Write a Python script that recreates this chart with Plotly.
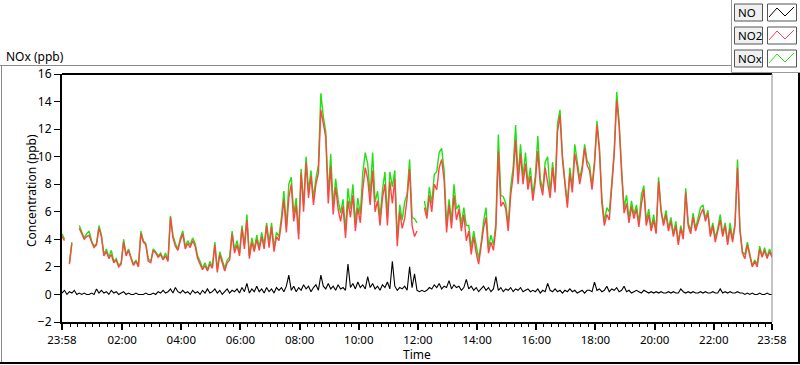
import plotly.graph_objects as go

# minutes after 23:58 (5-minute samples over 24 h)
STEP_MIN = 5

NO2 = [4.2, 3.9, None, 2.2, 3.7, None, None, 4.8, 4.4, 4.0, 4.2, 4.3,
       3.8, 3.4, 3.6, 4.8, 4.2, 2.8, 3.1, 2.6, 2.9, 2.3, 2.5, 2.0,
       2.2, 3.8, 2.8, 3.2, 2.6, 2.1, 2.4, 2.0, 4.4, 3.8, 3.6, 2.4,
       2.3, 3.2, 3.0, 2.7, 2.9, 2.5, 2.8, 2.4, 5.6, 4.1, 3.5, 3.2,
       3.9, 4.4, 3.3, 3.7, 3.4, 3.9, 3.5, 2.6, 2.2, 1.8, 2.1, 1.7,
       2.2, 1.9, 3.6, 1.6, 2.9, 2.2, 1.7, 2.3, 2.5, 4.4, 3.0, 3.6,
       2.8, 4.8, 3.3, 5.4, 2.6, 3.8, 3.1, 4.0, 3.2, 4.2, 3.3, 5.0,
       3.4, 4.9, 3.1, 4.2, 3.9, 5.2, 6.9, 4.5, 7.0, 8.0, 5.3, 6.5,
       4.0, 8.8, 6.0, 9.6, 7.0, 8.6, 6.5, 8.0, 8.8, 13.4, 12.3, 11.4,
       6.6, 9.3, 5.8, 7.8, 6.2, 5.3, 6.4, 4.1, 6.8, 5.6, 7.2, 4.6,
       6.3, 5.2, 7.6, 9.2, 8.4, 6.5, 9.0, 6.0, 6.8, 5.0, 7.0, 8.0,
       5.0, 8.2, 6.6, 8.4, 3.5, 6.0, 4.8, 5.5, 7.0, 9.1, 5.0, 4.2,
       4.6, None, None, 6.3, 5.5, 7.2, 6.0, 8.0, 7.6, 9.2, 9.8, 8.3,
       4.5, 6.5, 4.8, 7.2, 5.4, 6.2, 4.6, 5.8, 3.9, 4.6, 2.9, 4.2,
       3.0, 2.2, 3.4, 4.8, 5.6, 3.0, 3.8, 3.2, 4.8, 10.4, 6.4, 6.7,
       6.2, 4.6, 7.2, 8.6, 11.2, 8.0, 10.2, 8.0, 9.5, 7.6, 8.6, 6.8,
       8.2, 10.4, 8.0, 7.2, 9.2, 8.0, 7.0, 9.2, 7.4, 11.8, 13.0, 9.8,
       7.8, 6.3, 8.8, 7.4, 10.2, 9.3, 8.0, 9.0, 10.6, 9.4, 9.0, 7.6,
       9.4, 12.3, 10.4, 6.6, 5.0, 5.8, 5.4, 7.8, 10.2, 14.1, 12.2, 8.8,
       5.9, 6.6, 5.2, 6.4, 5.5, 6.2, 4.9, 6.5, 7.6, 5.0, 5.8, 4.6,
       5.4, 4.4, 8.2, 6.0, 5.0, 5.8, 4.6, 5.3, 4.2, 5.0, 3.6, 4.8,
       4.0, 7.4, 5.0, 4.4, 5.6, 4.6, 5.2, 5.8, 6.2, 5.3, 5.9, 4.2,
       5.0, 3.8, 4.6, 5.4, 4.2, 5.0, 3.6, 4.8, 3.8, 5.0, 9.2, 4.6,
       3.0, 2.6, 3.6, 2.9, 2.0, 2.4, 2.0, 3.3, 2.7, 3.2, 2.6, 3.1, 2.7]

NOX = [4.4, 4.0, None, 2.3, 3.8, None, None, 5.0, 4.6, 4.1, 4.4, 4.6,
       3.9, 3.5, 3.7, 5.0, 4.3, 2.9, 3.3, 2.7, 3.2, 2.4, 2.6, 2.1,
       2.3, 4.0, 2.9, 3.3, 2.7, 2.2, 2.5, 2.1, 4.6, 3.9, 3.7, 2.6,
       2.4, 3.3, 3.1, 2.8, 3.0, 2.6, 3.0, 2.5, 5.7, 4.3, 3.7, 3.3,
       4.1, 4.6, 3.5, 3.9, 3.6, 4.1, 3.7, 2.8, 2.4, 1.9, 2.3, 1.8,
       2.4, 2.0, 3.8, 1.8, 3.1, 2.4, 1.9, 2.5, 2.7, 4.6, 3.2, 3.9,
       3.0, 5.0, 3.6, 5.8, 2.8, 4.1, 3.3, 4.3, 3.4, 4.5, 3.6, 5.2,
       3.7, 5.2, 3.4, 4.5, 4.2, 5.6, 7.5, 4.9, 8.0, 8.5, 5.8, 7.0,
       4.4, 9.1, 6.5, 10.0, 7.5, 9.0, 7.0, 8.4, 9.4, 14.6, 12.9, 11.8,
       7.2, 10.2, 6.4, 8.4, 6.9, 5.9, 6.9, 4.6, 7.7, 6.2, 8.0, 5.2,
       7.0, 5.8, 8.8, 10.3, 9.5, 7.2, 10.3, 6.7, 7.5, 5.6, 7.6, 8.9,
       5.6, 8.9, 7.8, 9.0, 4.0, 6.5, 5.4, 6.7, 7.3, 9.8, 5.6, 5.5,
       5.2, None, None, 6.8, 5.8, 7.8, 6.6, 8.7, 8.9, 10.3, 10.6, 9.0,
       5.0, 6.9, 5.3, 8.0, 6.2, 6.5, 5.1, 6.3, 5.0, 5.0, 3.4, 4.6,
       3.5, 2.6, 3.7, 5.3, 6.3, 3.4, 4.3, 3.6, 5.2, 11.6, 7.2, 7.1,
       6.6, 5.0, 7.8, 9.2, 12.3, 8.5, 10.9, 8.5, 10.3, 8.0, 9.2, 7.2,
       8.6, 11.5, 8.4, 7.6, 9.6, 10.0, 7.3, 9.6, 7.7, 12.4, 13.4, 10.1,
       8.2, 6.6, 9.2, 7.7, 10.9, 9.6, 8.4, 9.3, 10.9, 9.7, 9.4, 7.9,
       9.7, 12.6, 10.7, 7.0, 5.3, 6.3, 6.0, 8.1, 10.4, 14.7, 12.5, 9.1,
       6.3, 7.2, 5.5, 6.8, 5.8, 6.5, 5.2, 7.2, 7.9, 5.3, 6.2, 4.8,
       5.8, 4.6, 8.5, 6.2, 5.2, 6.1, 4.8, 5.6, 4.4, 5.3, 3.8, 5.0,
       4.2, 7.7, 5.2, 4.6, 5.9, 4.8, 5.6, 6.3, 6.5, 5.5, 6.1, 4.4,
       5.2, 4.1, 4.8, 5.8, 4.4, 5.2, 3.8, 5.2, 4.0, 5.2, 9.8, 4.8,
       3.1, 2.9, 3.8, 3.0, 2.1, 2.5, 2.2, 3.5, 2.8, 3.4, 2.7, 3.3, 2.8]

NO = [0.1, 0.3, 0.0, 0.2, 0.1, 0.3, 0.0, 0.1, 0.0, 0.1, 0.0, 0.0,
      0.1, 0.0, 0.4, 0.1, 0.3, 0.1, 0.2, 0.0, 0.3, 0.1, 0.2, 0.0,
      0.1, 0.2, 0.0, 0.1, 0.0, 0.0, 0.1, 0.0, 0.0, 0.0, 0.1, 0.0,
      0.0, 0.1, 0.0, 0.2, 0.1, 0.3, 0.1, 0.2, 0.4, 0.1, 0.5, 0.2,
      0.1, 0.3, 0.1, 0.2, 0.0, 0.3, 0.1, 0.2, 0.0, 0.3, 0.1, 0.4,
      0.1, 0.2, 0.4, 0.1, 0.3, 0.0, 0.2, 0.4, 0.1, 0.3, 0.2, 0.4,
      0.1, 0.5, 0.2, 0.8, 0.1, 0.4, 0.2, 0.6, 0.2, 0.4, 0.1, 0.5,
      0.2, 0.4, 0.1, 0.5, 0.3, 0.5, 0.2, 0.6, 1.4, 0.3, 0.6, 0.2,
      0.5, 0.3, 0.7, 0.4, 0.6, 0.2, 0.5, 0.7, 0.3, 1.4, 0.6, 0.4,
      0.8, 0.4, 0.6, 0.3, 0.7, 0.4, 0.5, 0.3, 2.2, 0.5, 0.8, 0.4,
      0.9, 0.5, 0.7, 0.4, 1.3, 0.5, 0.8, 0.4, 0.6, 0.3, 0.7, 0.5,
      0.9, 0.4, 2.4, 0.6, 0.3, 0.5, 0.4, 0.6, 0.3, 2.0, 0.5, 1.5,
      0.3, 0.2, 0.3, 0.2, 0.3, 0.5, 0.4, 0.7, 0.5, 0.8, 0.4, 0.6,
      0.5, 1.0, 0.4, 0.7, 0.5, 0.6, 0.3, 0.5, 1.1, 0.4, 0.6, 0.3,
      0.5, 0.2, 0.4, 0.6, 0.3, 0.5, 0.2, 0.4, 1.3, 0.3, 0.5, 0.2,
      0.4, 0.3, 0.5, 0.2, 0.4, 0.3, 0.5, 0.2, 0.3, 0.4, 0.2, 0.3,
      0.2, 0.4, 0.1, 0.3, 0.2, 0.8, 0.3, 0.2, 0.4, 0.2, 0.3, 0.1,
      0.3, 0.2, 0.4, 0.2, 0.3, 0.1, 0.2, 0.3, 0.1, 0.3, 0.3, 0.2,
      0.9, 0.3, 0.4, 0.2, 0.3, 0.6, 0.2, 0.4, 0.3, 0.5, 0.2, 0.3,
      0.6, 0.2, 0.3, 0.1, 0.2, 0.3, 0.2, 0.1, 0.3, 0.2, 0.1, 0.2,
      0.1, 0.2, 0.1, 0.2, 0.1, 0.1, 0.2, 0.1, 0.2, 0.1, 0.1, 0.4,
      0.2, 0.1, 0.2, 0.1, 0.2, 0.1, 0.1, 0.2, 0.1, 0.2, 0.1, 0.1,
      0.2, 0.1, 0.1, 0.4, 0.1, 0.2, 0.1, 0.2, 0.1, 0.1, 0.2, 0.1,
      0.1, 0.0, 0.1, 0.0, 0.1, 0.0, 0.0, 0.1, 0.0, 0.0, 0.1, 0.0, 0.0]

X_TICK_VALS = [0, 122, 242, 362, 482, 602, 722, 842, 962, 1082, 1202, 1322, 1440]
X_TICK_TEXT = ["23:58", "02:00", "04:00", "06:00", "08:00", "10:00", "12:00",
               "14:00", "16:00", "18:00", "20:00", "22:00", "23:58"]
Y_TICK_VALS = [-2, 0, 2, 4, 6, 8, 10, 12, 14, 16]
SERIES_NAMES = ["NO", "NO2", "NOx"]
SERIES_COLORS = ["#000000", "#ff4444", "#22e011"]

t = [i * STEP_MIN for i in range(len(NO2))]

W, H = 800, 365
L, R, T, B = 62, 772, 74, 322
FONT = "Noto Sans"


def px(x):
    return (x - L) / (R - L)


def py(y):
    return (B - y) / (B - T)


fig = go.Figure()
fig.add_trace(go.Scatter(x=t, y=NOX, mode="lines", name="NOx",
                         line=dict(color=SERIES_COLORS[2], width=1.4), connectgaps=False))
fig.add_trace(go.Scatter(x=t, y=NO2, mode="lines", name="NO2",
                         line=dict(color=SERIES_COLORS[1], width=1.4), connectgaps=False))
fig.add_trace(go.Scatter(x=t, y=NO, mode="lines", name="NO",
                         line=dict(color=SERIES_COLORS[0], width=1.1)))

minor_vals = [2 + 15 * k for k in range(96) if (15 * k) % 120 != 0 or k == 0]
minor_vals = [v for v in minor_vals if v not in X_TICK_VALS]

fig.update_layout(
    width=W, height=H,
    margin=dict(l=L, r=W - R, t=T, b=H - B),
    paper_bgcolor="white", plot_bgcolor="white",
    showlegend=False,
    font=dict(family=FONT, size=12, color="#000"),
    xaxis=dict(range=[0, 1440], showgrid=False, zeroline=False,
               showline=True, linecolor="black", linewidth=2,
               tickmode="array", tickvals=X_TICK_VALS, ticktext=X_TICK_TEXT,
               ticks="outside", ticklen=6, tickwidth=2, tickcolor="black",
               tickfont=dict(family=FONT, size=11.5, color="#000"),
               minor=dict(tickmode="array", tickvals=minor_vals, ticks="outside",
                          ticklen=3, tickwidth=1, tickcolor="black", showgrid=False)),
    yaxis=dict(range=[-2, 16], showgrid=False, zeroline=False,
               showline=True, linecolor="black", linewidth=2,
               tickmode="array", tickvals=Y_TICK_VALS,
               ticks="outside", ticklen=6, tickwidth=1, tickcolor="black",
               tickfont=dict(family=FONT, size=12, color="#000")),
)

shapes = []
# plot frame: top (black) and right (gray)
shapes.append(dict(type="line", xref="paper", yref="paper", x0=px(L), x1=px(R), y0=py(T), y1=py(T),
                   line=dict(color="black", width=2)))
shapes.append(dict(type="line", xref="paper", yref="paper", x0=px(R), x1=px(R), y0=py(T), y1=py(B),
                   line=dict(color="#8a8a8a", width=1)))
# outer panel frame
shapes.append(dict(type="line", xref="paper", yref="paper", x0=px(0), x1=px(731), y0=py(65.5), y1=py(65.5),
                   line=dict(color="#8a8a8a", width=1)))
shapes.append(dict(type="line", xref="paper", yref="paper", x0=px(1.5), x1=px(1.5), y0=py(65.5), y1=py(364),
                   line=dict(color="#8a8a8a", width=1)))
shapes.append(dict(type="line", xref="paper", yref="paper", x0=px(0), x1=px(800), y0=py(363), y1=py(363),
                   line=dict(color="black", width=2)))
shapes.append(dict(type="line", xref="paper", yref="paper", x0=px(799), x1=px(799), y0=py(72), y1=py(364),
                   line=dict(color="black", width=2)))
shapes.append(dict(type="line", xref="paper", yref="paper", x0=px(731.5), x1=px(731.5), y0=py(0), y1=py(72.5),
                   line=dict(color="#9a9a9a", width=1)))
shapes.append(dict(type="line", xref="paper", yref="paper", x0=px(731.5), x1=px(800), y0=py(72.5), y1=py(72.5),
                   line=dict(color="#9a9a9a", width=1)))

annotations = []
# legend (LabVIEW style)
for k, (name, color) in enumerate(zip(SERIES_NAMES, SERIES_COLORS)):
    y0 = 4 + 23 * k
    y1 = y0 + 17
    shapes.append(dict(type="rect", xref="paper", yref="paper",
                       x0=px(734.5), x1=px(762.5), y0=py(y1), y1=py(y0),
                       line=dict(color="#555", width=1), fillcolor="#f0f0f0"))
    shapes.append(dict(type="rect", xref="paper", yref="paper",
                       x0=px(767.5), x1=px(796.5), y0=py(y1), y1=py(y0),
                       line=dict(color="#555", width=1), fillcolor="white"))
    pts = [(769, y0 + 13), (777, y0 + 4), (785, y0 + 12), (794, y0 + 3)]
    path = "M " + " L ".join(f"{px(a)},{py(b)}" for a, b in pts)
    shapes.append(dict(type="path", xref="paper", yref="paper", path=path,
                       line=dict(color=color, width=1)))
    annotations.append(dict(xref="paper", yref="paper", x=px(735.5), y=py((y0 + y1) / 2),
                            text=name, showarrow=False, xanchor="left", yanchor="middle",
                            font=dict(family=FONT, size=11.5, color="#000")))

annotations.append(dict(xref="paper", yref="paper", x=px(4), y=py(56), text="NOx (ppb)",
                        showarrow=False, xanchor="left", yanchor="middle",
                        font=dict(family=FONT, size=12, color="#000")))
annotations.append(dict(xref="paper", yref="paper", x=px(31), y=py(191), text="Concentration (ppb)",
                        textangle=-90, showarrow=False, xanchor="center", yanchor="middle",
                        font=dict(family=FONT, size=12, color="#000")))
annotations.append(dict(xref="paper", yref="paper", x=px(417), y=py(354), text="Time",
                        showarrow=False, xanchor="center", yanchor="middle",
                        font=dict(family=FONT, size=12, color="#000")))

fig.update_layout(shapes=shapes, annotations=annotations)
fig.write_html("out.html", config={"displayModeBar": False},
               post_script="document.body.style.margin='0';document.body.style.overflow='hidden';")
